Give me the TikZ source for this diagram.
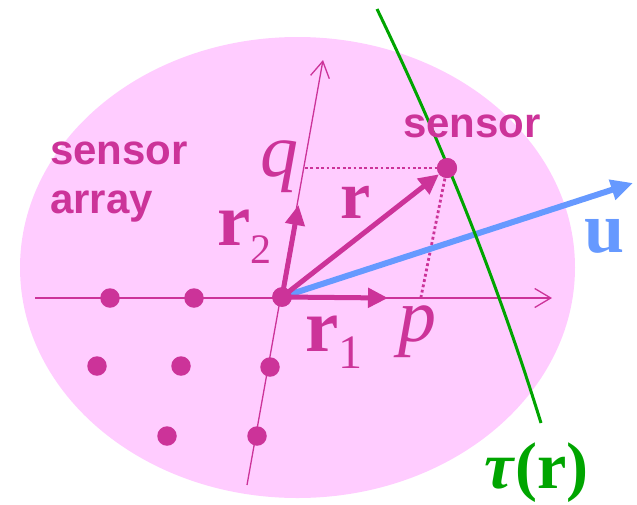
\documentclass[tikz,border=0pt]{standalone}
\usepackage{fontspec}
\setmainfont{Liberation Serif}
\setsansfont{Liberation Sans}
\usetikzlibrary{arrows.meta}
\definecolor{mag}{RGB}{204,51,153}
\definecolor{pinkfill}{RGB}{255,204,255}
\definecolor{grn}{RGB}{0,165,0}
\definecolor{blu}{RGB}{102,153,255}
\begin{document}
\begin{tikzpicture}[x=1pt,y=-1pt,
  dot/.style={circle,fill=mag,inner sep=0pt,minimum size=19.5pt},
  axisline/.style={draw=mag,line width=1.3pt,-{Straight Barb[length=16pt,width=19pt]}},
  vec/.style={draw=mag,line width=5pt,-{Triangle[length=20pt,width=19pt]}},
  guide/.style={draw=mag,line width=2.8pt,dash pattern=on 2.8pt off 2.6pt},
  lab/.style={inner sep=0pt,anchor=base west,text=mag},
  sanslab/.style={lab,font=\sffamily\bfseries\fontsize{42}{49}\selectfont}
]
\useasboundingbox (0,0) rectangle (637,504);
% array region
\fill[pinkfill] (297.5,267.5) ellipse [x radius=277.5pt, y radius=230.5pt];

% coordinates
\coordinate (hs) at (35,298);
\coordinate (he) at (552,298);
\coordinate (vs) at (247,485);
\coordinate (ve) at (323,60);
\coordinate (pp) at (421,297);
\coordinate (qq) at (305,168);
\coordinate (r1t) at (388,298);
\coordinate (r2t) at (298.5,205);
\coordinate (ut) at (633,183);
\coordinate (g1) at (377,9);
\coordinate (g2) at (541,423);
\coordinate (gc1) at (443.7,147);
\coordinate (gc2) at (498.3,285);

% axes
\draw[axisline] (hs) -- (he);
\draw[axisline] (vs) -- (ve);

% nodes (dots)
\node[dot] (o) at (282,297) {};
\node[dot,minimum size=20pt] (s) at (447,168) {};

% guides
\draw[guide] (qq) -- (s.center);
\draw[guide] (s.center) -- (pp);

% direction u
\draw[blu,line width=6pt,-{Triangle[length=22pt,width=20pt]}] (o.center) -- (ut);

% vectors
\draw[vec] (o.center) -- (r1t);
\draw[vec] (o.center) -- (r2t);
\draw[vec] (o.center) -- (s);

% wavefront
\draw[grn,line width=3pt] (g1) .. controls (gc1) and (gc2) .. (g2);

% redraw dots on top
\node[dot] (o2) at (282,297) {};
\node[dot,minimum size=20pt] (s2) at (447,168) {};
\node[dot] (d1) at (110,298) {};
\node[dot] (d2) at (194,298) {};
\node[dot] (d3) at (97,366) {};
\node[dot] (d4) at (181,366) {};
\node[dot] (d5) at (270,367) {};
\node[dot] (d6) at (167,436) {};
\node[dot] (d7) at (257,436) {};

% labels
\node[sanslab] (sa1) at (50,164) {sensor};
\node[sanslab] (sa2) at (50,213) {array};
\node[sanslab] (sl) at (403,137) {sensor};
\node[lab,font=\itshape\fontsize{76}{76}\selectfont] (ql) at (260,176) {q};
\node[lab,font=\itshape\fontsize{76}{76}\selectfont] (pl) at (398,341) {p};
\node[lab,font=\bfseries\fontsize{68}{68}\selectfont] (rl) at (340,218) {r};
\node[lab] (r2l) at (217,245) {\fontsize{75}{75}\selectfont\bfseries r\raisebox{-18pt}{\fontsize{42}{42}\selectfont\mdseries 2}};
\node[lab] (r1l) at (305,351) {\fontsize{75}{75}\selectfont\bfseries r\raisebox{-17pt}{\fontsize{48}{48}\selectfont\mdseries 1}};
\node[lab,text=blu,font=\bfseries\fontsize{72}{72}\selectfont] (ul) at (584,252) {u};
\node[lab,text=grn,font=\bfseries\fontsize{66}{66}\selectfont] (tl) at (484,488) {\textit{τ}(r)};
\end{tikzpicture}
\end{document}
